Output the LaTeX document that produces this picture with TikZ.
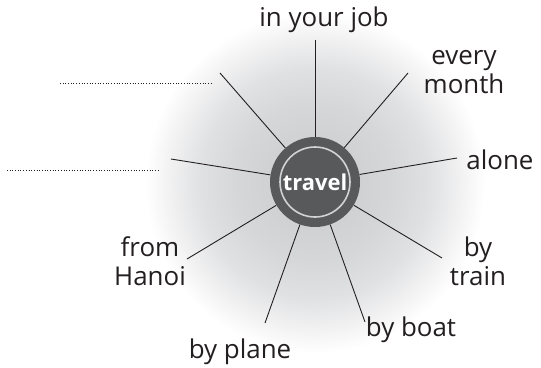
\documentclass[tikz,border=0pt]{standalone}
\usepackage{fontspec}
\setmainfont{Open Sans}
\definecolor{hubgray}{HTML}{58595B}
\definecolor{ringgray}{HTML}{D1D3D4}
\definecolor{ink}{HTML}{231F20}
\definecolor{g0}{HTML}{D0D1D3}
\definecolor{g1}{HTML}{D6D7D9}
\definecolor{g2}{HTML}{E0E1E2}
\definecolor{g3}{HTML}{F1F1F2}
\pgfdeclareradialshading{glow}{\pgfpoint{0bp}{0bp}}{color(0bp)=(g0);color(45bp)=(g0);color(80bp)=(g1);color(115bp)=(g2);color(145bp)=(g3);color(170bp)=(white);color(180bp)=(white)}
\begin{document}
\begin{tikzpicture}[x=1bp,y=-1bp,
  lbl/.style={font=\fontsize{26}{29}\selectfont, text=ink, align=center, inner sep=0pt},
  spoke/.style={line width=0.9bp, draw=ink},
  blank/.style={dotted, line width=0.7bp, draw=ink}]
\useasboundingbox (0,0) rectangle (541,367);
\begin{scope}
\clip (0,0) rectangle (541,367);
\node[inner sep=0pt] (glow) at (315,183) {\pgfuseshading{glow}};
\end{scope}
% hub
\node[circle, fill=hubgray, minimum size=90bp, inner sep=0pt] (hub) at (315,182) {};
\draw[ringgray, line width=1.6bp] (hub.center) circle (35);
\node[font=\bfseries\fontsize{22}{22}\selectfont, text=white, inner sep=0pt] (word) at (hub.center) {travel};
% labels
\node[lbl] (job) at (324,20) {in your job};
\node[lbl] (month) at (464,72) {every\\month};
\node[lbl] (alone) at (500,160) {alone};
\node[lbl] (train) at (478,261) {by\\train};
\node[lbl] (boat) at (411,330) {by boat};
\node[lbl] (plane) at (240,352) {by plane};
\node[lbl] (hanoi) at (150,261) {from\\Hanoi};
% spoke ends
\coordinate (ejob) at (315,40);
\coordinate (emonth) at (408,73);
\coordinate (ealone) at (457,158);
\coordinate (etrain) at (442,258);
\coordinate (eboat) at (365,322);
\coordinate (eplane) at (265,323);
\coordinate (ehanoi) at (187,259);
\coordinate (eb2) at (171,159);
\coordinate (eb1) at (220,73);
\foreach \e in {ejob,emonth,ealone,etrain,eboat,eplane,ehanoi,eb2,eb1}
  \draw[spoke] (hub) -- (\e);
% blanks
\coordinate (b1a) at (60,83);
\coordinate (b1b) at (212,83);
\coordinate (b2a) at (7,170);
\coordinate (b2b) at (159,170);
\draw[blank] (b1a) -- (b1b);
\draw[blank] (b2a) -- (b2b);
\end{tikzpicture}
\end{document}
